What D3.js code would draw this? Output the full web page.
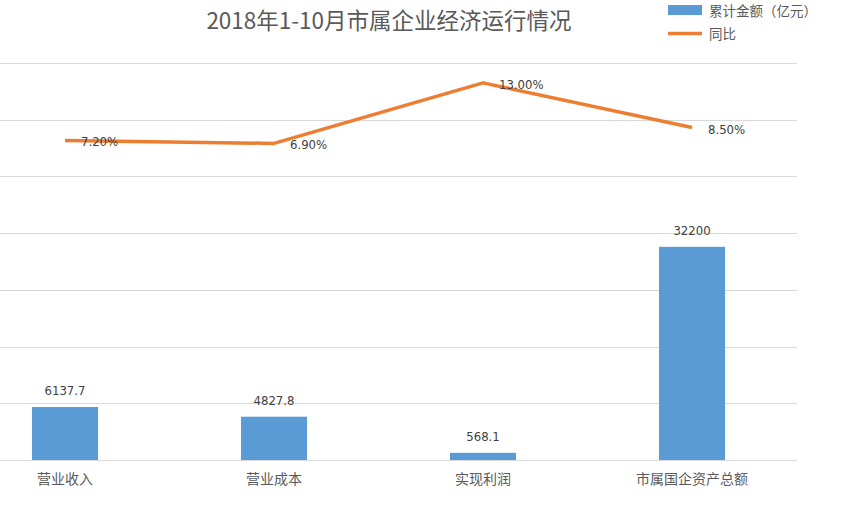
<!DOCTYPE html>
<html>
<head>
<meta charset="utf-8">
<title>2018年1-10月市属企业经济运行情况</title>
<style>
    body { margin: 0; background: #fff; }
    svg text { font-family: "Noto Sans CJK SC", "Liberation Sans", sans-serif; }
    svg .grid line { stroke: #d9d9d9; stroke-width: 1; }
    svg .bar { fill: #5b9bd5; }
    svg .line { fill: none; stroke: #ed7d31; stroke-width: 3.5; stroke-linejoin: round; }
    svg .lbl { fill: #404040; font-size: 13px; font-family: "Liberation Sans Narrow", "DejaVu Sans Condensed", sans-serif; }
    svg .cat { fill: #595959; font-size: 14px; }
</style>
</head>
<body>
<svg class="chart"></svg>
<script src="https://cdn.jsdelivr.net/npm/d3@7"></script>
<script>
var categories = ['营业收入', '营业成本', '实现利润', '市属国企资产总额'];
var amounts = [6137.7, 4827.8, 568.1, 32200];
var amountLabels = ['6137.7', '4827.8', '568.1', '32200'];
var growth = [7.2, 6.9, 13.0, 8.5];
var seriesNames = ['累计金额（亿元）', '同比'];
var title = '2018年1-10月市属企业经济运行情况';

var w = 853, h = 516;
var plotTop = 63, plotBottom = 460;

var svg = d3.select('.chart').attr('width', w).attr('height', h);

var x = d3.scaleBand()
    .domain(categories)
    .range([-39.5, 796.5])
    .paddingInner(0.684)
    .paddingOuter(0.342);

// bars in the picture are not proportional to their labels; a power scale fits them
var y = d3.scalePow().exponent(0.84)
    .domain([0, 67500])
    .range([plotBottom, plotTop]);

var y2 = d3.scaleLinear()
    .domain([-25, 15])
    .range([plotBottom, plotTop]);

var gridVals = d3.range(0, 8).map(i => plotTop + i * (plotBottom - plotTop) / 7);
svg.append('g').attr('class', 'grid')
    .selectAll('line')
    .data(gridVals)
    .enter().append('line')
    .attr('x1', 0).attr('x2', 797)
    .attr('y1', d => Math.round(d) + 0.5)
    .attr('y2', d => Math.round(d) + 0.5);

var cx = d => x(d) + x.bandwidth() / 2;

svg.selectAll('.bar')
    .data(amounts)
    .enter().append('rect')
    .attr('class', 'bar')
    .attr('x', (d, i) => x(categories[i]))
    .attr('width', x.bandwidth())
    .attr('y', d => y(d))
    .attr('height', d => plotBottom - y(d));

svg.selectAll('.barlbl')
    .data(amounts)
    .enter().append('text')
    .attr('class', 'lbl')
    .attr('text-anchor', 'middle')
    .attr('x', (d, i) => cx(categories[i]))
    .attr('y', d => y(d) - 12)
    .text((d, i) => amountLabels[i]);

var line = d3.line()
    .x((d, i) => cx(categories[i]))
    .y(d => y2(d));

svg.append('path')
    .datum(growth)
    .attr('class', 'line')
    .attr('d', line);

svg.selectAll('.linelbl')
    .data(growth)
    .enter().append('text')
    .attr('class', 'lbl')
    .attr('x', (d, i) => cx(categories[i]) + 16)
    .attr('y', d => y2(d) + 6)
    .text(d => d.toFixed(2) + '%');

svg.selectAll('.cat')
    .data(categories)
    .enter().append('text')
    .attr('class', 'cat')
    .attr('text-anchor', 'middle')
    .attr('x', d => cx(d))
    .attr('y', 484)
    .text(d => d);

svg.append('text')
    .attr('x', 389)
    .attr('y', 29)
    .attr('text-anchor', 'middle')
    .attr('fill', '#595959')
    .attr('font-size', 22.5)
    .text(title);

// legend
var lg = svg.append('g').attr('transform', 'translate(668,0)');
lg.append('rect')
    .attr('x', 0).attr('y', 5)
    .attr('width', 34).attr('height', 10)
    .attr('fill', '#5b9bd5');
lg.append('line')
    .attr('x1', 0).attr('x2', 34)
    .attr('y1', 33.5).attr('y2', 33.5)
    .attr('stroke', '#ed7d31')
    .attr('stroke-width', 3.5);
lg.selectAll('.lgt')
    .data(seriesNames)
    .enter().append('text')
    .attr('x', 41)
    .attr('y', (d, i) => 16 + i * 23)
    .attr('fill', '#595959')
    .attr('font-size', 13.5)
    .text(d => d);
</script>
</body>
</html>
